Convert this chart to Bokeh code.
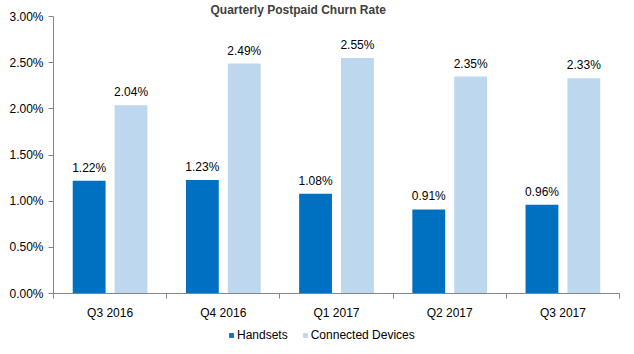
from bokeh.plotting import figure
from bokeh.models import ColumnDataSource, FixedTicker, Legend, LegendItem, Title
from bokeh.layouts import column
from bokeh.embed import file_html
from bokeh.resources import INLINE
from bokeh.core.properties import value

quarters = ["Q3 2016", "Q4 2016", "Q1 2017", "Q2 2017", "Q3 2017"]
handsets = [1.22, 1.23, 1.08, 0.91, 0.96]
connected = [2.04, 2.49, 2.55, 2.35, 2.33]
series_names = ["Handsets", "Connected Devices"]
y_ticks = [0, 0.5, 1.0, 1.5, 2.0, 2.5, 3.0]
title_text = "Quarterly Postpaid Churn Rate"

FONT = "Liberation Sans"
C_HAND = "#0070C0"
C_CONN = "#BDD7EE"
AXIS_C = "#868686"

n = len(quarters)
centers = [i + 0.5 for i in range(n)]
off = 0.185
bw = 0.29

src_h = ColumnDataSource(dict(x=[c - off for c in centers], top=handsets,
                              lab=[f"{v:.2f}%" for v in handsets]))
src_c = ColumnDataSource(dict(x=[c + off for c in centers], top=connected,
                              lab=[f"{v:.2f}%" for v in connected]))

p = figure(width=634, height=322, output_backend="svg", toolbar_location=None,
           x_range=(0, n), y_range=(0, 3.0),
           min_border_left=53, min_border_right=15, min_border_top=0, min_border_bottom=26)
p.outline_line_color = None
p.xgrid.grid_line_color = None
p.ygrid.grid_line_color = None
p.background_fill_color = "white"

r_h = p.vbar(x="x", top="top", width=bw, source=src_h, color=C_HAND, line_color=None)
r_c = p.vbar(x="x", top="top", width=bw, source=src_c, color=C_CONN, line_color=None)

for s in (src_h, src_c):
    p.text(x="x", y="top", text="lab", source=s, text_align="center", text_baseline="bottom",
           y_offset=-6, text_font=value(FONT), text_font_size="12px", text_color="#000000")

# axes
p.yaxis.ticker = FixedTicker(ticks=y_ticks)
p.yaxis.major_label_overrides = {t: f"{t:.2f}%" for t in y_ticks}
p.yaxis.minor_tick_line_color = None
p.yaxis.major_tick_out = 5
p.yaxis.major_tick_in = 0
p.yaxis.axis_line_color = AXIS_C
p.yaxis.major_tick_line_color = AXIS_C
p.yaxis.major_label_text_font = FONT
p.yaxis.major_label_text_font_size = "12px"
p.yaxis.major_label_text_color = "#000000"
p.yaxis.major_label_standoff = 5

p.xaxis.ticker = FixedTicker(ticks=centers, minor_ticks=list(range(n + 1)))
p.xaxis.major_label_overrides = {c: q for c, q in zip(centers, quarters)}
p.xaxis.major_tick_line_color = None
p.xaxis.minor_tick_line_color = AXIS_C
p.xaxis.minor_tick_out = 5
p.xaxis.minor_tick_in = 0
p.xaxis.axis_line_color = AXIS_C
p.xaxis.major_label_text_font = FONT
p.xaxis.major_label_text_font_size = "12px"
p.xaxis.major_label_text_color = "#000000"
p.xaxis.major_label_standoff = 6

title = Title(text=title_text, align="left", offset=157, standoff=0,
              text_font=FONT, text_font_style="bold", text_font_size="12px",
              text_color="#404040")
p.add_layout(title, "above")

# legend strip below the chart (its frame is aligned with the chart's frame)
lg = figure(width=634, height=32, output_backend="svg", toolbar_location=None,
            x_range=(0, n), y_range=(-1, 0),
            min_border_left=0, min_border_right=0, min_border_top=0, min_border_bottom=0)
lg.axis.visible = False
lg.grid.visible = False
lg.outline_line_color = None
d_h = lg.vbar(x="x", top="top", width=bw, source=src_h, color=C_HAND, line_color=None)
d_c = lg.vbar(x="x", top="top", width=bw, source=src_c, color=C_CONN, line_color=None)
legend = Legend(items=[LegendItem(label=series_names[0], renderers=[d_h]),
                       LegendItem(label=series_names[1], renderers=[d_c])],
                orientation="horizontal", location=(175, 12),
                glyph_width=6, glyph_height=6, label_standoff=3, spacing=14,
                padding=2, margin=0, border_line_color=None, background_fill_alpha=0,
                label_text_font=FONT, label_text_font_size="12px",
                label_text_color="#000000", label_height=12)
lg.add_layout(legend)

open("out.html", "w").write(file_html(column(p, lg, spacing=0), INLINE))
